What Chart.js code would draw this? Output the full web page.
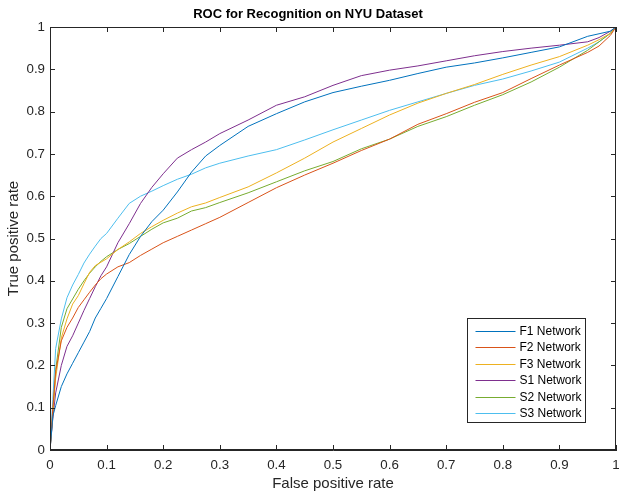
<!DOCTYPE html>
<html>
<head>
<meta charset="utf-8">
<script src="https://cdn.jsdelivr.net/npm/chart.js@4.4.1/dist/chart.umd.min.js"></script>
<style>
  html, body { margin: 0; padding: 0; background: #fff; }
  canvas { display: block; }
</style>
</head>
<body>
<canvas id="c" width="624" height="494"></canvas>
<script>
// ---- Data ----
const fpr = [0, 0.005, 0.01, 0.02, 0.03, 0.04, 0.05, 0.06, 0.07, 0.08, 0.09, 0.1, 0.12, 0.14, 0.16, 0.18, 0.2, 0.225, 0.25, 0.275, 0.3, 0.35, 0.4, 0.45, 0.5, 0.55, 0.6, 0.65, 0.7, 0.75, 0.8, 0.85, 0.9, 0.95, 0.97, 0.99, 1];

const tprF1 = [0, 0.08, 0.105, 0.15, 0.18, 0.205, 0.23, 0.255, 0.28, 0.312, 0.335, 0.358, 0.41, 0.462, 0.505, 0.54, 0.567, 0.61, 0.657, 0.695, 0.72, 0.765, 0.795, 0.823, 0.845, 0.86, 0.874, 0.89, 0.905, 0.915, 0.927, 0.94, 0.953, 0.978, 0.984, 0.99, 1];
const tprF2 = [0, 0.1, 0.185, 0.258, 0.29, 0.312, 0.337, 0.355, 0.373, 0.39, 0.405, 0.416, 0.433, 0.443, 0.46, 0.475, 0.49, 0.505, 0.52, 0.535, 0.55, 0.585, 0.62, 0.65, 0.678, 0.708, 0.735, 0.77, 0.795, 0.822, 0.845, 0.878, 0.91, 0.94, 0.955, 0.98, 1];
const tprF3 = [0, 0.09, 0.17, 0.265, 0.31, 0.345, 0.365, 0.393, 0.42, 0.436, 0.444, 0.452, 0.474, 0.492, 0.512, 0.528, 0.543, 0.56, 0.575, 0.584, 0.597, 0.622, 0.655, 0.69, 0.728, 0.76, 0.792, 0.82, 0.843, 0.864, 0.888, 0.91, 0.93, 0.957, 0.97, 0.985, 1];
const tprS1 = [0, 0.075, 0.135, 0.2, 0.245, 0.27, 0.3, 0.33, 0.358, 0.386, 0.412, 0.433, 0.49, 0.535, 0.583, 0.621, 0.653, 0.69, 0.71, 0.728, 0.748, 0.78, 0.815, 0.835, 0.862, 0.885, 0.898, 0.908, 0.92, 0.932, 0.942, 0.95, 0.957, 0.965, 0.975, 0.99, 1];
const tprS2 = [0, 0.08, 0.19, 0.29, 0.334, 0.357, 0.38, 0.4, 0.418, 0.433, 0.446, 0.457, 0.474, 0.488, 0.505, 0.522, 0.537, 0.548, 0.565, 0.573, 0.585, 0.608, 0.634, 0.66, 0.682, 0.712, 0.735, 0.765, 0.788, 0.815, 0.84, 0.87, 0.905, 0.945, 0.965, 0.985, 1];
const tprS3 = [0, 0.12, 0.24, 0.31, 0.36, 0.39, 0.415, 0.442, 0.463, 0.482, 0.5, 0.512, 0.548, 0.583, 0.6, 0.612, 0.625, 0.64, 0.652, 0.667, 0.678, 0.695, 0.71, 0.733, 0.757, 0.78, 0.803, 0.823, 0.843, 0.862, 0.877, 0.896, 0.917, 0.95, 0.965, 0.985, 1];

const seriesNames = ['F1 Network', 'F2 Network', 'F3 Network', 'S1 Network', 'S2 Network', 'S3 Network'];
const seriesTpr = [tprF1, tprF2, tprF3, tprS1, tprS2, tprS3];

const xTickValues = [0, 0.1, 0.2, 0.3, 0.4, 0.5, 0.6, 0.7, 0.8, 0.9, 1];
const xTickLabels = ['0', '0.1', '0.2', '0.3', '0.4', '0.5', '0.6', '0.7', '0.8', '0.9', '1'];
const yTickValues = [0, 0.1, 0.2, 0.3, 0.4, 0.5, 0.6, 0.7, 0.8, 0.9, 1];
const yTickLabels = ['0', '0.1', '0.2', '0.3', '0.4', '0.5', '0.6', '0.7', '0.8', '0.9', '1'];

// ---- Styles ----
const seriesColors = ['#0072BD', '#D95319', '#EDB120', '#7E2F8E', '#77AC30', '#4DBEEE'];
const FONT = "'Liberation Sans', Arial, Helvetica, sans-serif";
const AXIS = '#262626';

const datasets = seriesNames.map((name, i) => ({
  label: name,
  data: fpr.map((x, j) => ({ x: x, y: seriesTpr[i][j] })),
  borderColor: seriesColors[i],
  backgroundColor: seriesColors[i],
  borderWidth: 1,
  pointRadius: 0,
  tension: 0,
  fill: false
}));

// Inward tick marks + full box (MATLAB style)
const boxTicks = {
  id: 'boxTicks',
  afterDatasetsDraw(chart) {
    const { ctx, chartArea: a, scales } = chart;
    const L = 5;
    ctx.save();
    ctx.strokeStyle = AXIS;
    ctx.lineWidth = 1;
    ctx.beginPath();
    xTickValues.forEach(v => {
      const px = Math.round(scales.x.getPixelForValue(v)) + 0.5;
      ctx.moveTo(px, a.bottom); ctx.lineTo(px, a.bottom - L);
      ctx.moveTo(px, a.top); ctx.lineTo(px, a.top + L);
    });
    yTickValues.forEach(v => {
      const py = Math.round(scales.y.getPixelForValue(v)) + 0.5;
      ctx.moveTo(a.left, py); ctx.lineTo(a.left + L, py);
      ctx.moveTo(a.right, py); ctx.lineTo(a.right - L, py);
    });
    ctx.stroke();
    ctx.strokeRect(Math.round(a.left) + 0.5, Math.round(a.top) + 0.5,
                   Math.round(a.right - a.left) - 1, Math.round(a.bottom - a.top) - 1);
    ctx.restore();
  }
};

// Legend inside the axes (lower right)
const insideLegend = {
  id: 'insideLegend',
  afterDraw(chart) {
    const { ctx, chartArea: a } = chart;
    const w = 118, h = 104;
    const x0 = Math.round(a.right - 31 - w) + 0.5;
    const y0 = Math.round(a.bottom - 28 - h) + 0.5;
    ctx.save();
    ctx.fillStyle = '#fff';
    ctx.fillRect(x0, y0, w, h);
    ctx.strokeStyle = AXIS;
    ctx.lineWidth = 1;
    ctx.strokeRect(x0, y0, w, h);
    ctx.font = '12px ' + FONT;
    ctx.textBaseline = 'middle';
    ctx.textAlign = 'left';
    chart.data.datasets.forEach((ds, i) => {
      const cy = Math.round(y0 + 12 + i * 16.5) + 0.5;
      ctx.strokeStyle = ds.borderColor;
      ctx.beginPath();
      ctx.moveTo(x0 + 8, cy);
      ctx.lineTo(x0 + 48, cy);
      ctx.stroke();
      ctx.fillStyle = '#000';
      ctx.fillText(ds.label, x0 + 52, cy);
    });
    ctx.restore();
  }
};

new Chart(document.getElementById('c'), {
  type: 'line',
  data: { datasets },
  plugins: [boxTicks, insideLegend],
  options: {
    responsive: false,
    animation: false,
    devicePixelRatio: 1,
    layout: { padding: { left: 0, right: 8, top: 0, bottom: 0 } },
    plugins: {
      legend: { display: false },
      tooltip: { enabled: false },
      title: {
        display: true,
        text: 'ROC for Recognition on NYU Dataset',
        color: '#000',
        font: { family: FONT, size: 13, weight: 'bold', lineHeight: 1.2 },
        padding: { top: 6.2, bottom: 5.2 }
      }
    },
    scales: {
      x: {
        type: 'linear',
        min: 0, max: 1,
        afterBuildTicks: s => { s.ticks = xTickValues.map(v => ({ value: v })); },
        afterFit: s => { s.height = 44; s.paddingLeft = 0; s.paddingRight = 0; },
        grid: { display: false, drawTicks: false },
        border: { display: true, color: AXIS, width: 1 },
        ticks: {
          color: AXIS, padding: 7, maxRotation: 0, autoSkip: false,
          font: { family: FONT, size: 13.3 },
          callback: (v, i) => xTickLabels[i]
        },
        title: {
          display: true, text: 'False positive rate', color: AXIS,
          font: { family: FONT, size: 15, lineHeight: 1.2 },
          padding: { top: 0, bottom: 1 }
        }
      },
      y: {
        type: 'linear',
        min: 0, max: 1,
        afterBuildTicks: s => { s.ticks = yTickValues.map(v => ({ value: v })); },
        afterFit: s => { s.width = 50; s.paddingTop = 0; s.paddingBottom = 0; },
        grid: { display: false, drawTicks: false },
        border: { display: true, color: AXIS, width: 1 },
        ticks: {
          color: AXIS, padding: 5, autoSkip: false,
          font: { family: FONT, size: 13.3 },
          callback: (v, i) => yTickLabels[i]
        },
        title: {
          display: true, text: 'True positive rate', color: AXIS,
          font: { family: FONT, size: 15, lineHeight: 1.2 },
          padding: { top: 5, bottom: 0 }
        }
      }
    }
  }
});
</script>
</body>
</html>
